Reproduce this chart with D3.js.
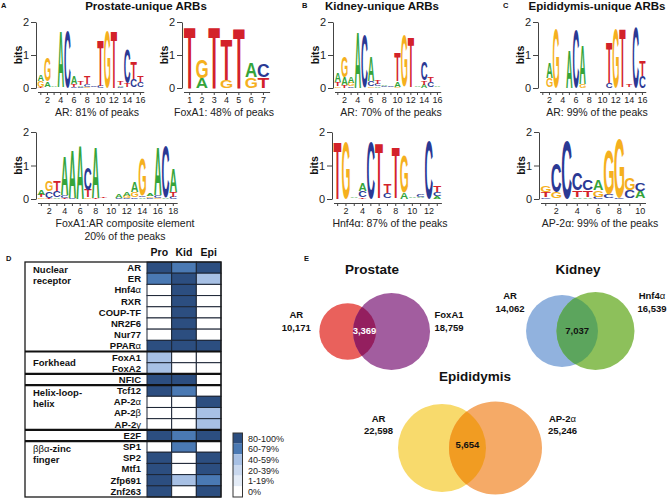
<!DOCTYPE html>
<html><head><meta charset="utf-8">
<script src="https://cdn.jsdelivr.net/npm/d3@7"></script>
<style>
body{margin:0;background:#fff;}
svg{display:block;font-family:"Liberation Sans",Arial,Helvetica,sans-serif;}
</style></head><body>
<svg id="fig" width="668" height="498"></svg>
<script>
// ---------------- DATA ----------------
// sequence logos: each position = stack of [base, bits], bottom -> top
const logoProstateAR = [
 [["T",0.04],["G",0.18],["A",0.2]], [["C",0.03],["A",0.16],["G",0.7]], [["C",0.02],["A",0.04]],
 [["G",0.02],["A",1.68]], [["C",1.7]], [["C",0.04],["T",0.08],["A",0.22]],
 [["C",0.04],["A",0.04],["T",0.1]], [["G",0.04],["C",0.08],["T",0.22]], [["G",0.03],["C",0.04]],
 [["C",0.07],["T",1.38]], [["G",1.7]], [["T",1.72]], [["C",0.04],["A",0.04],["T",0.12]],
 [["A",0.03],["T",0.12],["C",1.05]], [["A",0.03],["C",0.24],["T",0.5]], [["G",0.03],["C",0.14],["T",0.18]]
];
const logoProstateFoxA1 = [
 [["T",1.85]], [["A",0.3],["G",0.55]], [["T",1.85]], [["G",0.25],["T",1.22]],
 [["T",1.82]], [["G",0.32],["A",0.42]], [["T",0.32],["C",0.38]]
];
const logoComposite = [
 [["G",0.05],["T",0.08],["A",0.15]], [["T",0.04],["C",0.2],["G",0.32]], [["A",0.05],["C",0.2],["T",0.3]],
 [["T",0.04],["C",0.08],["A",1.16]], [["C",0.04],["A",1.42]], [["A",1.6]],
 [["G",0.05],["T",0.22],["C",0.68]], [["T",0.04],["A",1.52]], [["A",0.03],["T",0.04]],
 [["C",0.02],["A",0.03]], [["C",0.04],["A",0.1]], [["C",0.04],["G",0.06],["A",0.12]],
 [["C",0.05],["G",0.17],["A",0.32]], [["A",0.05],["C",0.05],["G",1.1]], [["C",0.04],["G",0.05],["A",0.06]],
 [["G",0.04],["C",0.08],["A",1.44]], [["A",0.04],["C",1.52]], [["C",0.07],["T",0.14],["A",0.7]]
];
const logoKidneyAR = [
 [["G",0.05],["T",0.12],["A",0.28]], [["T",0.08],["A",0.23],["G",0.62]], [["C",0.05],["G",0.1],["A",0.2]],
 [["A",1.7]], [["C",1.6]], [["G",0.05],["C",0.15],["A",0.75]],
 [["A",0.05],["C",0.08],["T",0.12]], [["T",0.03],["C",0.04],["A",0.05]], [["G",0.03],["C",0.05]],
 [["G",0.04],["A",0.16],["T",0.85]], [["A",0.03],["G",1.57]], [["G",0.03],["T",1.49]],
 [["C",0.03],["A",0.04]], [["A",0.1],["T",0.12],["C",0.56]], [["A",0.03],["C",0.14],["T",0.16]],
 [["G",0.03],["A",0.04]]
];
const logoKidneyHnf4a = [
 [["T",1.71]], [["G",1.67]], [["C",0.03],["A",0.04]], [["T",0.05],["C",0.18],["A",0.22]],
 [["C",1.7]], [["C",0.03],["T",1.62]], [["A",0.03],["C",0.15],["T",0.25]],
 [["G",0.03],["T",1.5]], [["A",0.2],["G",1.1]], [["C",0.03],["A",0.05]],
 [["G",0.03],["A",0.04],["C",0.06]], [["C",1.72]], [["A",0.08],["C",0.12],["T",0.18]]
];
const logoEpiAR = [
 [["G",0.02],["A",0.03]], [["T",0.03],["G",0.28],["A",0.48]], [["G",1.8]],
 [["C",0.02],["T",0.03]], [["A",1.15]], [["C",1.77]], [["G",0.12],["A",1.18]],
 [["C",0.02],["A",0.03]], [["C",0.02],["G",0.03]], [["A",0.02],["C",0.03]],
 [["C",0.15],["T",1.2]], [["G",1.8]], [["A",0.03],["T",1.77]], [["A",0.03],["T",0.06]],
 [["C",1.84]], [["C",0.37],["T",0.45]]
];
const logoEpiAP2a = [
 [["C",0.05],["T",0.15],["G",0.2]], [["T",0.03],["G",0.18],["C",0.85]], [["C",1.72]],
 [["A",0.05],["T",0.2],["C",0.5]], [["A",0.05],["T",0.2],["C",0.3]], [["C",0.07],["G",0.2],["A",0.3]],
 [["A",0.03],["C",0.1],["G",1.35]], [["C",0.04],["G",1.78]], [["A",0.02],["C",0.25],["G",0.35]],
 [["G",0.02],["A",0.23],["C",0.25]]
];
const logoCaptions = [
 ["AR: 81% of peaks"], ["FoxA1: 48% of peaks"], ["FoxA1:AR composite element","20% of the peaks"],
 ["AR: 70% of the peaks"], ["Hnf4α: 87% of the peaks"], ["AR: 99% of the peaks"], ["AP-2α: 99% of the peaks"]
];
const panelTitles = ["Prostate-unique ARBs","Kidney-unique ARBs","Epididymis-unique ARBs"];
const bitTicks = [0,1,2];

// heatmap
const hmRows = ["AR","ER","Hnf4α","RXR","COUP-TF","NR2F6","Nur77","PPARα","FoxA1","FoxA2","NFIC","Tcf12","AP-2α","AP-2β","AP-2γ","E2F","SP1","SP2","Mtf1","Zfp691","Znf263"];
const hmCols = ["Pro","Kid","Epi"];
// level: 0=0%, 1=1-19%, 2=20-39%, 3=40-59%, 4=60-79%, 5=80-100%
const hmPro = [5,4,0,0,0,0,0,5,3,3,5,5,0,0,0,5,0,5,5,5,5];
const hmKid = [4,5,5,5,5,5,5,5,0,0,5,4,0,0,0,4,4,0,0,3,0];
const hmEpi = [5,3,0,0,0,0,0,5,0,0,0,0,5,3,3,5,0,5,5,4,5];
const hmGroupNames = [["Nuclear","receptor"],["Forkhead"],[],["Helix-loop-","helix"],[],["ββα-zinc","finger"]];
const hmGroupRows = [[0,7],[8,9],[10,10],[11,14],[15,15],[16,20]];
const legendLabels = ["80-100%","60-79%","40-59%","20-39%","1-19%","0%"];
const legendLevels = [5,4,3,2,1,0];

// venn
const vennTitles = ["Prostate","Kidney","Epididymis"];
const vennLeftNames = ["AR","AR","AR"];
const vennRightNames = ["FoxA1","Hnf4α","AP-2α"];
const vennLeftCounts = [10171,14062,22598];
const vennRightCounts = [18759,16539,25246];
const vennOverlaps = [3369,7037,5654];

// ---------------- STYLE / LAYOUT ----------------
const FONT = "'Liberation Sans', Arial, Helvetica, sans-serif";
const BASE_COLORS = {A:"#35a43a", C:"#2b3994", G:"#f5b01e", T:"#d3222a"};
const LEVEL_COLORS = ["#ffffff","#e4ecf7","#c9d8ee","#a7c0e4","#4a79b3","#2c4e80"];
const fmt = d3.format(",");

const svg = d3.select("#fig");
svg.append("rect").attr("width",668).attr("height",498).attr("fill","#fff");

// glyph metrics for tight scaling
const ctx = document.createElement("canvas").getContext("2d");
ctx.font = "bold 100px " + FONT;
const GM = {};
"ACGT".split("").forEach(ch => {
  const m = ctx.measureText(ch);
  GM[ch] = {L:m.actualBoundingBoxLeft, R:m.actualBoundingBoxRight, A:m.actualBoundingBoxAscent, D:m.actualBoundingBoxDescent};
});

function rich(sel, str) {
  str.split(/([α-ω]+)/).forEach(p => {
    if (!p) return;
    const t = sel.append("tspan").text(p);
    if (/[α-ω]/.test(p)) t.attr("font-weight","normal");
  });
  return sel;
}

const logoLayouts = [
 {data:logoProstateAR,    axisX:36,  step:6.64, baseY:88,  bitPx:33,   every:2, capX:97,  capY:116},
 {data:logoProstateFoxA1, axisX:182, step:12.3, baseY:88,  bitPx:33,   every:1, capX:224, capY:116},
 {data:logoComposite,     axisX:36,  step:7.76, baseY:199, bitPx:33.5, every:2, capX:125, capY:227},
 {data:logoKidneyAR,      axisX:333, step:6.64, baseY:88,  bitPx:33,   every:2, capX:391, capY:116},
 {data:logoKidneyHnf4a,   axisX:332, step:8.3,  baseY:199, bitPx:33.5, every:2, capX:390, capY:227},
 {data:logoEpiAR,         axisX:538, step:6.64, baseY:88,  bitPx:33,   every:2, capX:597, capY:116},
 {data:logoEpiAP2a,       axisX:539, step:10.5, baseY:199, bitPx:33.5, every:2, capX:600, capY:227}
];

function drawLogo(L, caption) {
  const n = L.data.length;
  const g = svg.append("g");
  const x0 = L.axisX + 1.5;
  const x = d3.scaleBand().domain(d3.range(1, n + 1)).range([x0, x0 + n * L.step]);
  const y = d3.scaleLinear().domain([0, 2]).range([L.baseY, L.baseY - 2 * L.bitPx]);
  const bw = x.bandwidth();
  L.data.forEach((stack, i) => {
    let acc = 0;
    stack.forEach(([ch, b]) => {
      const yTop = y(acc + b), yBot = y(acc);
      acc += b;
      const h = yBot - yTop;
      if (h < 1.2) return;
      const w = bw * 0.94, xl = x(i + 1) + (bw - w) / 2;
      const m = GM[ch];
      const sx = w / (m.L + m.R), sy = h / (m.A + m.D);
      g.append("text")
        .attr("transform", `translate(${xl + m.L * sx},${yTop + m.A * sy}) scale(${sx},${sy})`)
        .attr("font-size", 100).attr("font-weight", "bold").attr("font-family", FONT)
        .attr("fill", BASE_COLORS[ch]).text(ch);
    });
  });
  // y axis
  const ya = g.append("g").attr("transform", `translate(${L.axisX},0)`)
    .call(d3.axisLeft(y).tickValues(bitTicks).tickFormat(d3.format("d")).tickSize(5).tickSizeOuter(0).tickPadding(2));
  ya.selectAll("text").attr("font-size", 11).attr("font-family", FONT).attr("fill", "#222");
  ya.selectAll("path,line").attr("stroke", "#444");
  g.append("text").attr("transform", `translate(${L.axisX - 14},${y(1)}) rotate(-90)`)
    .attr("text-anchor", "middle").attr("font-size", 10.5).attr("font-weight", "bold").attr("fill", "#111").text("bits");
  // x axis
  const xa = g.append("g").attr("transform", `translate(0,${L.baseY + 4})`)
    .call(d3.axisBottom(x).tickSize(3).tickSizeOuter(0).tickPadding(2)
      .tickFormat(d => (d % L.every === 0 || L.every === 1) ? d : ""));
  xa.selectAll("text").attr("font-size", 9).attr("font-family", FONT).attr("fill", "#222");
  xa.selectAll("path,line").attr("stroke", "#444");
  // caption
  caption.forEach((line, k) => {
    rich(g.append("text").attr("x", L.capX).attr("y", L.capY + k * 13).attr("text-anchor", "middle")
      .attr("font-size", 10.5).attr("fill", "#222"), line);
  });
}
logoLayouts.forEach((L, i) => drawLogo(L, logoCaptions[i]));

// panel titles & letters
const titleX = [146, 382, 597];
panelTitles.forEach((t, i) => {
  svg.append("text").attr("x", titleX[i]).attr("y", 9.8).attr("text-anchor", "middle")
    .attr("font-size", 11.5).attr("font-weight", "bold").attr("fill", "#111").text(t);
});
const panelLetters = [["A",1,8.3],["B",302,8.3],["C",503,8.3],["D",6,261],["E",304,261]];
panelLetters.forEach(([t, x, y]) => svg.append("text").attr("x", x).attr("y", y)
  .attr("font-size", 7.5).attr("font-weight", "bold").attr("fill", "#111").text(t));

// ---------------- HEATMAP ----------------
const hm = svg.append("g");
const tblL = 25, tblR = 221, cellL = 147, tblT = 262, tblB = 497;
const yB = d3.scaleBand().domain(hmRows).range([tblT, tblB]);
const xB = d3.scaleBand().domain(hmCols).range([cellL, tblR]);
const colVals = {Pro: hmPro, Kid: hmKid, Epi: hmEpi};
const lvl = d3.scaleOrdinal().domain([0,1,2,3,4,5]).range(LEVEL_COLORS);
hmCols.forEach(c => {
  hm.selectAll(null).data(hmRows).join("rect")
    .attr("x", xB(c)).attr("y", d => yB(d)).attr("width", xB.bandwidth()).attr("height", yB.bandwidth())
    .attr("fill", (d, i) => lvl(colVals[c][i])).attr("stroke", "#1c2535").attr("stroke-width", 1);
  hm.append("text").attr("x", xB(c) + xB.bandwidth() / 2).attr("y", 256).attr("text-anchor", "middle")
    .attr("font-size", 10.5).attr("font-weight", "bold").attr("fill", "#111").text(c);
});
hmRows.forEach(r => {
  rich(hm.append("text").attr("x", cellL - 6).attr("y", yB(r) + yB.bandwidth() / 2 + 3.4)
    .attr("text-anchor", "end").attr("font-size", 9.5).attr("font-weight", "bold").attr("fill", "#111"), r);
});
hm.append("rect").attr("x", tblL).attr("y", tblT).attr("width", tblR - tblL).attr("height", tblB - tblT)
  .attr("fill", "none").attr("stroke", "#1a1a1a").attr("stroke-width", 1.3);
hmGroupRows.forEach(([a, b], gi) => {
  if (gi > 0) hm.append("line").attr("x1", tblL).attr("x2", tblR).attr("y1", yB(hmRows[a])).attr("y2", yB(hmRows[a]))
    .attr("stroke", "#111").attr("stroke-width", 2.2);
  const lines = hmGroupNames[gi];
  lines.forEach((t, k) => {
    let yy;
    if (lines.length === 1) yy = (yB(hmRows[a]) + yB(hmRows[b]) + yB.bandwidth()) / 2 + 3.5;
    else yy = yB(hmRows[a]) + yB.bandwidth() / 2 + 5 + k * 11;
    rich(hm.append("text").attr("x", 33).attr("y", yy).attr("font-size", 9.5).attr("font-weight", "bold").attr("fill", "#111"), t);
  });
});
// legend
const lg = svg.append("g");
const ly = d3.scaleBand().domain(legendLabels).range([433, 497]);
lg.selectAll(null).data(legendLabels).join("rect")
  .attr("x", 233).attr("y", d => ly(d)).attr("width", 9.5).attr("height", ly.bandwidth())
  .attr("fill", (d, i) => lvl(legendLevels[i]));
lg.append("rect").attr("x", 233).attr("y", 433).attr("width", 9.5).attr("height", 64)
  .attr("fill", "none").attr("stroke", "#333").attr("stroke-width", 1);
lg.selectAll(null).data(legendLabels).join("text")
  .attr("x", 248).attr("y", d => ly(d) + ly.bandwidth() / 2 + 3.3)
  .attr("font-size", 9).attr("fill", "#222").text(d => d);

// ---------------- VENN ----------------
const vennLayout = [
 {mid:369.6, cy:331.5, rMax:38.5, lens:23,   c1:"#e9615c", c2:"#a25d9f", c3:"#941f5f", tx:372, ty:274, lo:23,   ro:19,   ly:318,   cly:334, cc:"#fff"},
 {mid:578.75,cy:331,   rMax:39,   lens:41.5, c1:"#91b2de", c2:"#8dc05b", c3:"#5ca55d", tx:578, ty:274, lo:16,   ro:17.5, ly:299,   cly:334, cc:"#111"},
 {mid:468.75,cy:448,   rMax:46.5, lens:37,   c1:"#f8da6c", c2:"#f5aa67", c3:"#f19c22", tx:475, ty:381, lo:19.5, ro:20.5, ly:421.5, cly:447.5, cc:"#111"}
];
const vg = svg.append("g");
const defs = svg.append("defs");
vennTitles.forEach((title, i) => {
  const L = vennLayout[i];
  const r = d3.scaleSqrt().domain([0, Math.max(vennLeftCounts[i], vennRightCounts[i])]).range([0, L.rMax]);
  const r1 = r(vennLeftCounts[i]), r2 = r(vennRightCounts[i]);
  const d = r1 + r2 - L.lens;
  const c1 = L.mid - d / 2, c2 = L.mid + d / 2;
  vg.append("circle").attr("cx", c1).attr("cy", L.cy).attr("r", r1).attr("fill", L.c1);
  vg.append("circle").attr("cx", c2).attr("cy", L.cy).attr("r", r2).attr("fill", L.c2);
  defs.append("clipPath").attr("id", "vc" + i).append("circle").attr("cx", c1).attr("cy", L.cy).attr("r", r1);
  vg.append("circle").attr("cx", c2).attr("cy", L.cy).attr("r", r2).attr("fill", L.c3).attr("clip-path", `url(#vc${i})`);
  vg.append("text").attr("x", L.tx).attr("y", L.ty).attr("text-anchor", "middle")
    .attr("font-size", 13.5).attr("font-weight", "bold").attr("fill", "#111").text(title);
  const lx = c1 - r1 - L.lo, rx = c2 + r2 + L.ro;
  [[lx, vennLeftNames[i], vennLeftCounts[i]], [rx, vennRightNames[i], vennRightCounts[i]]].forEach(([xx, nm, ct]) => {
    rich(vg.append("text").attr("x", xx).attr("y", L.ly).attr("text-anchor", "middle")
      .attr("font-size", 9.5).attr("font-weight", "bold").attr("fill", "#111"), nm);
    vg.append("text").attr("x", xx).attr("y", L.ly + 12.5).attr("text-anchor", "middle")
      .attr("font-size", 9.5).attr("font-weight", "bold").attr("fill", "#111").text(fmt(ct));
  });
  vg.append("text").attr("x", ((c2 - r2) + (c1 + r1)) / 2).attr("y", L.cly).attr("text-anchor", "middle")
    .attr("font-size", 9.5).attr("font-weight", "bold").attr("fill", L.cc).text(fmt(vennOverlaps[i]));
});
</script>
</body></html>
